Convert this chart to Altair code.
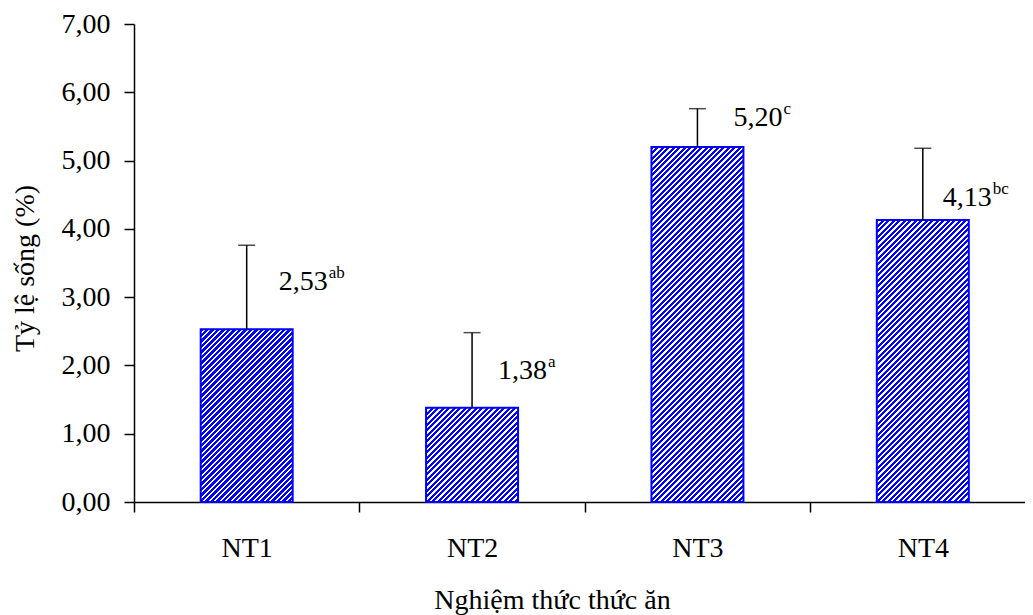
import altair as alt
import pandas as pd

# ---- data ----
categories = ["NT1", "NT2", "NT3", "NT4"]
values = [2.53, 1.38, 5.20, 4.13]
upper = [3.76, 2.48, 5.76, 5.18]
value_labels = ["2,53", "1,38", "5,20", "4,13"]
letters = ["ab", "a", "c", "bc"]
y_ticks = [0, 1, 2, 3, 4, 5, 6, 7]

# ---- layout / style ----
FONT = "Liberation Serif"
W_PLOT, H_PLOT = 891, 478
X_RANGE = 901.5
Y_MAX = 7
BAR_W = 92
BLUE = "#0000ff"
WHITE = "#ffffff"
label_dx = [32, 26, 36, 20]
label_dy = [-39, -29, -21, -14]
MAIN_FS = 28
SUP_FS = 17
MAIN_W = 1.75 * MAIN_FS  # width of "d,dd" in a Times-like font

df = pd.DataFrame({"cat": categories, "value": values, "upper": upper,
                   "label": value_labels, "letter": letters})


def stripe_gradient(w, h, period=5.5, frac=0.56):
    L = w + h
    s = L / (w * w + h * h)
    stops = []
    pos = 0.0
    while pos < L:
        a = pos / L
        b = min((pos + period * frac) / L, 1.0)
        c = min((pos + period) / L, 1.0)
        stops += [{"offset": a, "color": BLUE}, {"offset": b, "color": BLUE},
                  {"offset": b, "color": WHITE}, {"offset": c, "color": WHITE}]
        pos += period
    return {"gradient": "linear", "x1": 0, "y1": 0, "x2": w * s, "y2": h * s,
            "stops": stops}


x_enc = alt.X("cat:N", sort=categories,
              scale=alt.Scale(range=[0, X_RANGE], paddingInner=0, paddingOuter=0),
              axis=alt.Axis(title="Nghiệm thức thức ăn", labelAngle=0, tickBand="extent",
                            tickSize=10, labelPadding=22, titleX=418, titleY=106,
                            titleBaseline="alphabetic", titleAnchor="middle"))
y_enc = alt.Y("value:Q", scale=alt.Scale(domain=[0, Y_MAX], nice=False),
              axis=alt.Axis(title="Tỷ lệ sống (%)", values=y_ticks,
                            labelExpr="replace(format(datum.value, '.2f'), '.', ',')",
                            tickSize=10, labelPadding=14, grid=False,
                            titleX=-101, titleY=244, titleBaseline="alphabetic",
                            titleAngle=270))

base = alt.Chart(df)
layers = []
for i, c in enumerate(categories):
    h = values[i] / Y_MAX * H_PLOT
    layers.append(
        base.transform_filter(alt.datum.cat == c)
        .mark_bar(size=BAR_W, fill=stripe_gradient(BAR_W, h), stroke=BLUE, strokeWidth=2)
        .encode(x=x_enc, y=y_enc)
    )

rules = base.mark_rule(color="black", strokeWidth=1.5).encode(
    x=alt.X("cat:N", sort=categories), y="value:Q", y2="upper:Q")
caps = base.mark_tick(color="black", thickness=1.5, size=17, orient="horizontal").encode(
    x=alt.X("cat:N", sort=categories), y=alt.Y("upper:Q"))
layers += [rules, caps]

for i, c in enumerate(categories):
    sub = base.transform_filter(alt.datum.cat == c)
    layers.append(sub.mark_text(align="left", baseline="alphabetic", font=FONT,
                                fontSize=MAIN_FS, color="black",
                                dx=label_dx[i], dy=label_dy[i]).encode(
        x=alt.X("cat:N", sort=categories), y="value:Q", text="label:N"))
    layers.append(sub.mark_text(align="left", baseline="alphabetic", font=FONT,
                                fontSize=SUP_FS, color="black",
                                dx=label_dx[i] + MAIN_W + 1, dy=label_dy[i] - 12).encode(
        x=alt.X("cat:N", sort=categories), y="value:Q", text="letter:N"))

chart = alt.layer(*layers).properties(
    width=W_PLOT, height=H_PLOT,
    autosize=alt.AutoSizeParams(type="none"),
    padding={"left": 126, "top": 16, "right": 0, "bottom": 113},
).configure_view(stroke=None).configure_axis(
    labelFont=FONT, titleFont=FONT, labelFontSize=MAIN_FS, titleFontSize=MAIN_FS,
    labelColor="black", titleColor="black", titleFontWeight="normal",
    domainColor="black", tickColor="black", domainWidth=1.5, tickWidth=1.5,
)

chart.save("out.html", embed_options={"renderer": "svg", "actions": False})
